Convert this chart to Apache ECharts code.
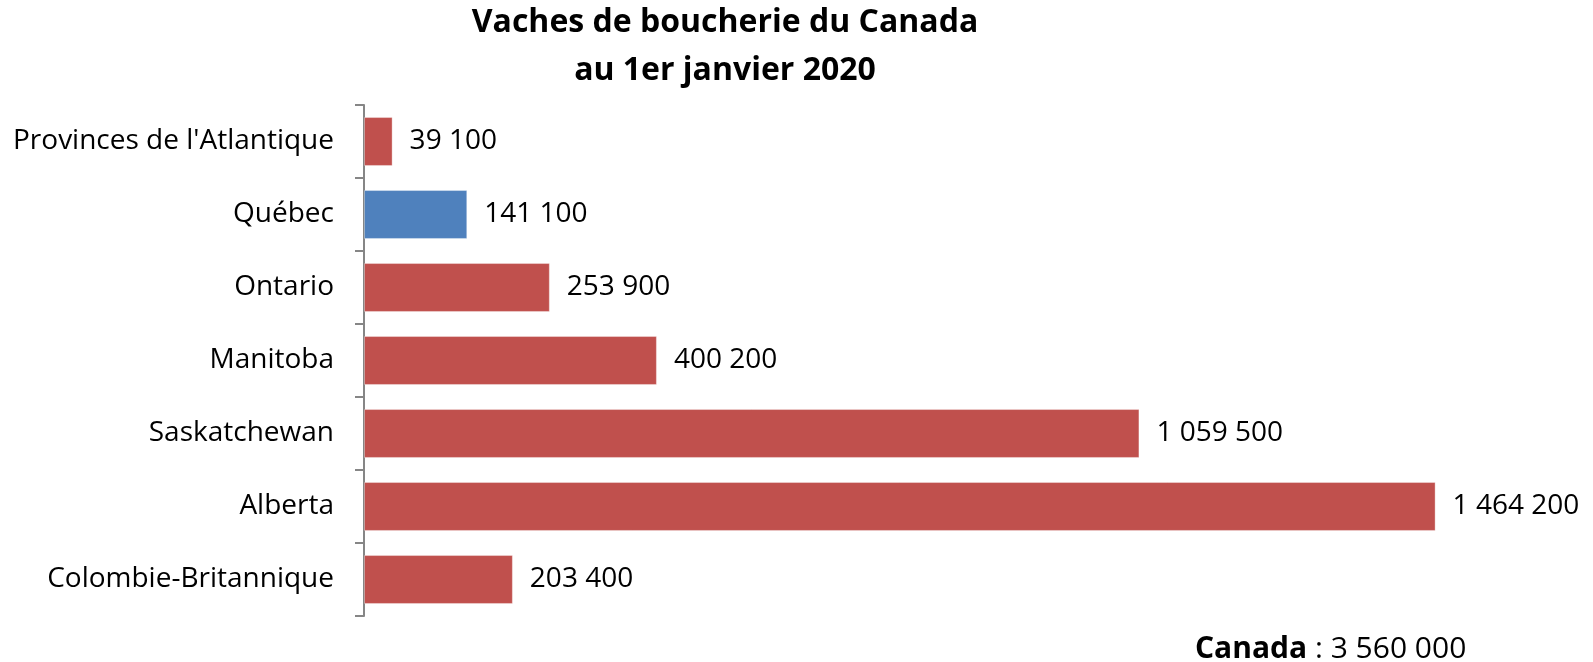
<!DOCTYPE html>
<html>
<head>
<meta charset="utf-8">
<script src="https://cdn.jsdelivr.net/npm/echarts@6/dist/echarts.min.js"></script>
<style>
  html, body { margin: 0; padding: 0; background: #fff; }
  #chart { width: 1593px; height: 662px; }
</style>
</head>
<body>
<div id="chart"></div>
<script>
// Beef cows by region, 1 January 2020
const regions = [
  "Provinces de l'Atlantique",
  "Québec",
  "Ontario",
  "Manitoba",
  "Saskatchewan",
  "Alberta",
  "Colombie-Britannique"
];
const cows = [39100, 141100, 253900, 400200, 1059500, 1464200, 203400];
const highlighted = "Québec";
const canadaTotal = 3560000;

const FONT = '"Open Sans", Lato, sans-serif';
const RED = '#C0504D';
const BLUE = '#4F81BD';

// French thousands separator (space)
function fmt(v) {
  return String(v).replace(/\B(?=(\d{3})+(?!\d))/g, ' ');
}

const chart = echarts.init(document.getElementById('chart'), null, { renderer: 'canvas' });

chart.setOption({
  animation: false,
  backgroundColor: '#ffffff',
  title: {
    text: 'Vaches de boucherie du Canada\nau 1er janvier 2020',
    left: 720,
    top: -6,
    textAlign: 'center',
    textStyle: {
      fontFamily: FONT,
      fontWeight: 'bold',
      fontSize: 32,
      lineHeight: 48,
      color: '#000'
    }
  },
  grid: {
    left: 364,
    top: 105,
    width: 1171,
    height: 511,
    containLabel: false
  },
  xAxis: {
    type: 'value',
    min: 0,
    max: 1600000,
    show: false
  },
  yAxis: {
    type: 'category',
    data: regions,
    inverse: true,
    axisLine: { show: true, lineStyle: { color: '#868686', width: 2 } },
    axisTick: { show: true, length: 9, lineStyle: { color: '#868686', width: 2 } },
    axisLabel: {
      margin: 30,
      fontFamily: FONT,
      fontSize: 28,
      color: '#000',
      padding: [4, 0, 0, 0]
    },
    splitLine: { show: false }
  },
  series: [{
    type: 'bar',
    barCategoryGap: '33%',
    data: regions.map((r, i) => ({
      value: cows[i],
      itemStyle: { color: r === highlighted ? BLUE : RED }
    })),
    itemStyle: { borderColor: 'rgba(255,255,255,0.35)', borderWidth: 1 },
    label: {
      show: true,
      position: 'right',
      distance: 17,
      fontFamily: FONT,
      fontSize: 28,
      color: '#000',
      padding: [4, 0, 0, 0],
      formatter: p => fmt(p.value)
    }
  }],
  graphic: [{
    type: 'text',
    left: 1195,
    top: 634,
    style: {
      text: '{b|Canada} : ' + fmt(canadaTotal),
      fontFamily: FONT,
      fontSize: 30,
      fill: '#000',
      rich: {
        b: { fontFamily: FONT, fontSize: 30, fontWeight: 'bold', fill: '#000' }
      }
    }
  }]
});
</script>
</body>
</html>
